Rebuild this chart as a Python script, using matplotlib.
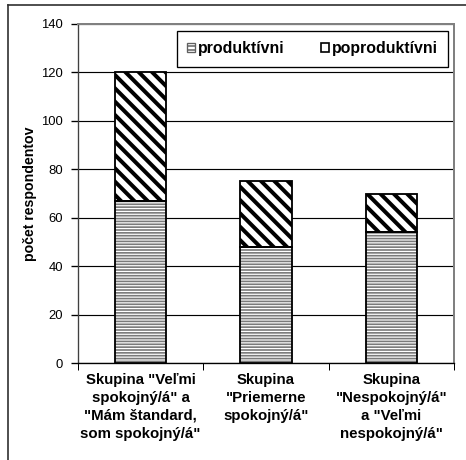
import numpy as np
import matplotlib
matplotlib.use("Agg")
import matplotlib.pyplot as plt
from matplotlib.lines import Line2D
from matplotlib.patches import Patch

plt.rcParams['font.family'] = ['Liberation Sans', 'DejaVu Sans']

skupiny = ['Skupina "Veľmi\nspokojný/á" a\n"Mám štandard,\nsom spokojný/á"',
           'Skupina\n"Priemerne\nspokojný/á"',
           'Skupina\n"Nespokojný/á"\na "Veľmi\nnespokojný/á"']
produktivni = [67, 48, 54]
poproduktivni = [53, 27, 16]
y_ticks = [0, 20, 40, 60, 80, 100, 120, 140]

DPI = 120
fig = plt.figure(figsize=(466 / DPI, 460 / DPI), dpi=DPI)
ax = fig.add_axes([78 / 466, 97 / 460, 376 / 466, 339 / 460])

x = np.arange(len(skupiny))
w = 0.41

# dolna cast - jemne vodorovne pruhy
plt.rcParams['hatch.linewidth'] = 1.0
ax.bar(x, produktivni, w, color='white', edgecolor='#7a7a7a', hatch='-------',
       linewidth=0, zorder=3)
# horna cast - hrube sikme pruhy
plt.rcParams['hatch.linewidth'] = 2.4
ax.bar(x, poproduktivni, w, bottom=produktivni, color='white', edgecolor='black',
       hatch='\\\\\\', linewidth=0, zorder=3)
# obrysy
ax.bar(x, produktivni, w, fill=False, edgecolor='black', linewidth=1.1, zorder=4)
ax.bar(x, poproduktivni, w, bottom=produktivni, fill=False, edgecolor='black',
       linewidth=1.1, zorder=4)

ax.set_xlim(-0.5, 2.5)
ax.set_ylim(0, 140)
ax.set_yticks(y_ticks)
ax.tick_params(axis='y', labelsize=7.8, length=4, direction='out', pad=5)
ax.yaxis.grid(True, color='black', linewidth=0.7, zorder=0)
ax.set_axisbelow(True)

ax.set_xticks(x)
ax.set_xticklabels(skupiny, fontsize=9, fontweight='bold', linespacing=1.35)
ax.tick_params(axis='x', which='major', length=0, pad=6)
ax.set_xticks([-0.5, 0.5, 1.5, 2.5], minor=True)
ax.tick_params(axis='x', which='minor', length=4, direction='out')

ax.set_ylabel('počet respondentov', fontsize=8.5, fontweight='bold')
ax.yaxis.set_label_coords(-0.11, 0.5)

for s in ['top', 'right']:
    ax.spines[s].set_color('#808080')
    ax.spines[s].set_linewidth(1.2)
ax.spines['left'].set_color('#404040')
ax.spines['bottom'].set_color('black')

plt.rcParams['hatch.linewidth'] = 0.9
h1 = Patch(facecolor='white', edgecolor='#606060', hatch='-----', linewidth=0.8)
h2 = Patch(facecolor='white', edgecolor='black', linewidth=1.0)
leg = ax.legend([h1, h2], ['produktívni', 'poproduktívni'], ncol=2,
                loc='upper left', bbox_to_anchor=(0.263, 0.879, 0.721, 0.1),
                mode='expand', prop={'size': 9.5, 'weight': 'bold'},
                fancybox=False, framealpha=1, edgecolor='black',
                handlelength=0.5, handleheight=0.5, handletextpad=0.2,
                borderpad=0.65, borderaxespad=0)
leg.get_frame().set_linewidth(0.8)
leg.set_zorder(5)

# vonkajsi ramcek grafu (horna a lava hrana)
top_y = 1 - 5 / 460
left_x = 8 / 466
fig.add_artist(Line2D([left_x, 1.0], [top_y, top_y], transform=fig.transFigure,
                      color='#303030', linewidth=1.0))
fig.add_artist(Line2D([left_x, left_x], [0.0, top_y], transform=fig.transFigure,
                      color='#303030', linewidth=1.0))

fig.savefig('out.png', dpi=DPI)
